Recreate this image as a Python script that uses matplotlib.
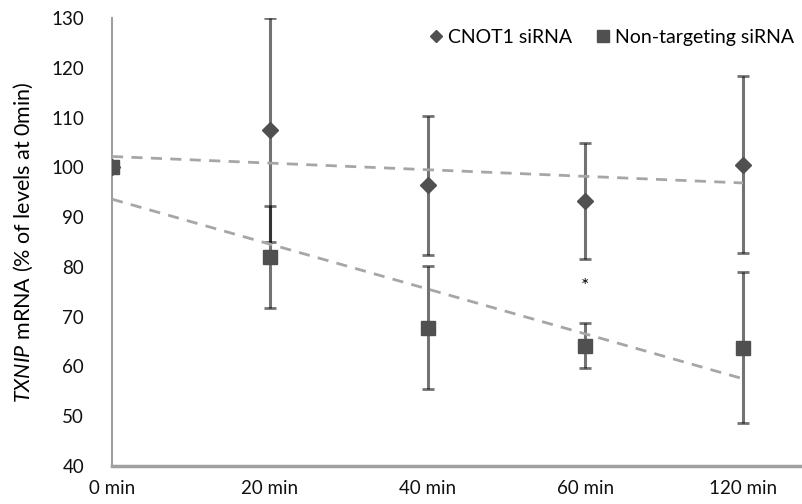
import numpy as np
import matplotlib
matplotlib.use("Agg")
import matplotlib.pyplot as plt

plt.rcParams['font.family'] = ['Lato', 'DejaVu Sans']
plt.rcParams['mathtext.fontset'] = 'custom'
plt.rcParams['mathtext.it'] = 'Lato:italic'
plt.rcParams['mathtext.rm'] = 'Lato'

# data
time_labels = ['0 min', '20 min', '40 min', '60 min', '120 min']
cnot1_mean = [100, 107.5, 96.4, 93.2, 100.5]
cnot1_err = [0, 22.5, 14.0, 11.6, 17.8]
nt_mean = [100, 82.0, 67.8, 64.2, 63.8]
nt_err = [0, 10.3, 12.3, 4.5, 15.2]
star_pos = (3, 76)

x = np.arange(len(time_labels))
marker_col = '#505050'
bar_col = 'black'
trend_col = '#a6a6a6'

fig = plt.figure(figsize=(8.03, 5.04), dpi=100)
ax = fig.add_axes([112 / 803, 38 / 504, 1 - 112 / 803, 448 / 504])

ax.errorbar(x, cnot1_mean, yerr=cnot1_err, fmt='D', color=marker_col, ms=8,
            ecolor=bar_col, elinewidth=2.2, capsize=4.5, capthick=2,
            label='CNOT1 siRNA', zorder=3)
ax.errorbar(x, nt_mean, yerr=nt_err, fmt='s', color=marker_col, ms=10,
            ecolor=bar_col, elinewidth=2.2, capsize=4.5, capthick=2,
            label='Non-targeting siRNA', zorder=4)
for container in ax.containers:
    for part in container[2]:
        part.set_alpha(0.55)
    for part in container[1]:
        part.set_alpha(0.55)

# linear trendlines
for series in (cnot1_mean, nt_mean):
    k, b = np.polyfit(x, series, 1)
    ax.plot(x, k * x + b, ls=(0, (4, 3)), color=trend_col, lw=2, zorder=5)

ax.text(star_pos[0], star_pos[1], '*', ha='center', va='center', fontsize=14,
        color='black')

ax.set_xlim(0, 4.38)
ax.set_ylim(40, 130)
ax.set_yticks(range(40, 131, 10))
ax.set_xticks(x)
ax.set_xticklabels(time_labels, fontsize=13.5)
ax.tick_params(axis='y', labelsize=13.5, length=0, pad=20, labelcolor='#111111')
ax.tick_params(axis='x', length=0, pad=10, labelcolor='#111111')
for side in ('top', 'right'):
    ax.spines[side].set_visible(False)
ax.spines['left'].set_color('#a0a0a0')
ax.spines['left'].set_linewidth(1.5)
ax.spines['bottom'].set_color('#a0a0a0')
ax.spines['bottom'].set_linewidth(2.5)

ax.set_ylabel(r'$\it{TXNIP}$ mRNA (% of levels at 0min)', fontsize=15.5,
              labelpad=12)

handles, labels = ax.get_legend_handles_labels()
ax.legend([h[0] for h in handles], labels, loc='upper right', ncol=2,
          frameon=False, fontsize=14, handletextpad=0.1, columnspacing=1.1,
          handlelength=1.0, markerscale=0.8, bbox_to_anchor=(1.012, 1.015))

fig.savefig('out.png', dpi=100)
